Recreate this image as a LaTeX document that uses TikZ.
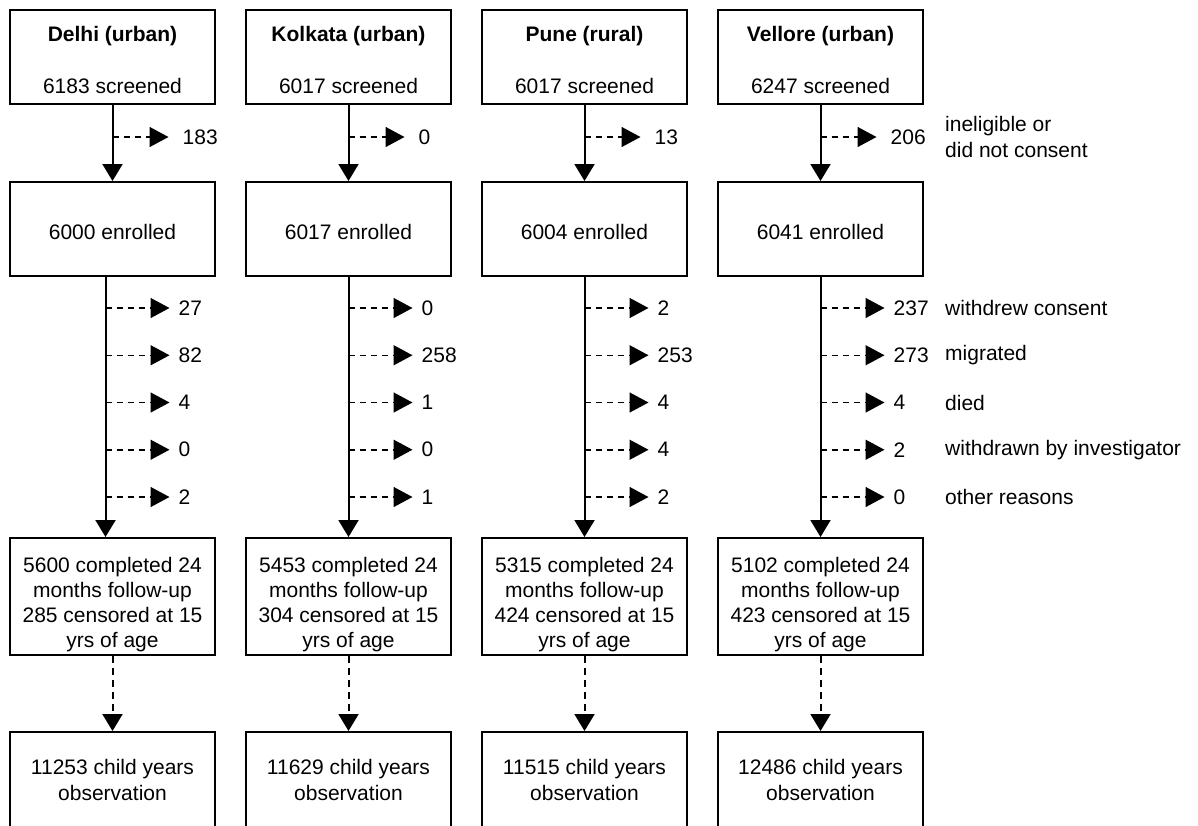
\documentclass[tikz,border=0pt]{standalone}
\usepackage{fontspec}
\setmainfont{Liberation Sans}
\usepackage{tikz}
\usetikzlibrary{arrows.meta, positioning}
\newcommand{\lift}[1]{\rule{0pt}{#1}}
\tikzset{
  flowbox/.style={draw, line width=2pt, minimum width=205pt, minimum height=94pt, align=center, inner sep=2pt, font=\fontsize{21}{25.5}\selectfont},
  followbox/.style={flowbox, minimum height=117pt, font=\fontsize{21}{25}\selectfont},
  obsbox/.style={flowbox, minimum height=96pt},
  mainarr/.style={-{Triangle[length=17pt, width=20pt]}, line width=2pt},
  obsarr/.style={mainarr, dash pattern=on 7pt off 5pt},
  lossarr/.style={-{Triangle[length=19pt, width=20pt]}, line width=1.5pt, dash pattern=on 6pt off 5pt},
  countnode/.style={inner sep=0pt, font=\fontsize{21}{25.5}\selectfont},
  reasonnode/.style={countnode, anchor=west, align=left},
}

\begin{document}
\begin{tikzpicture}[x=1pt, y=-1pt, node distance=76pt and 29pt]
  \useasboundingbox (0,0) rectangle (1198,825);
  % screening
  \node[flowbox] (scr1) at (112.5,57) {\lift{21pt}\textbf{Delhi (urban)}\\[26.5pt]6183 screened};
  \node[flowbox, right=of scr1] (scr2) {\lift{21pt}\textbf{Kolkata (urban)}\\[26.5pt]6017 screened};
  \node[flowbox, right=of scr2] (scr3) {\lift{21pt}\textbf{Pune (rural)}\\[26.5pt]6017 screened};
  \node[flowbox, right=of scr3] (scr4) {\lift{21pt}\textbf{Vellore (urban)}\\[26.5pt]6247 screened};
  % enrolment
  \node[flowbox, below=of scr1] (enr1) {\lift{21pt}6000 enrolled};
  \node[flowbox, below=of scr2] (enr2) {\lift{21pt}6017 enrolled};
  \node[flowbox, below=of scr3] (enr3) {\lift{21pt}6004 enrolled};
  \node[flowbox, below=of scr4] (enr4) {\lift{21pt}6041 enrolled};
  % follow-up
  \node[followbox, below=260pt of enr1] (fol1) {\lift{31pt}5600 completed 24\\months follow-up\\285 censored at 15\\yrs of age};
  \node[followbox, below=260pt of enr2] (fol2) {\lift{31pt}5453 completed 24\\months follow-up\\304 censored at 15\\yrs of age};
  \node[followbox, below=260pt of enr3] (fol3) {\lift{31pt}5315 completed 24\\months follow-up\\424 censored at 15\\yrs of age};
  \node[followbox, below=260pt of enr4] (fol4) {\lift{31pt}5102 completed 24\\months follow-up\\423 censored at 15\\yrs of age};
  % observation
  \node[obsbox, below=75pt of fol1] (obs1) {11253 child years\\observation};
  \node[obsbox, below=75pt of fol2] (obs2) {11629 child years\\observation};
  \node[obsbox, below=75pt of fol3] (obs3) {11515 child years\\observation};
  \node[obsbox, below=75pt of fol4] (obs4) {12486 child years\\observation};
  \coordinate (rcol) at (945,0);

  \foreach \i/\dx in {1/-7,2/0,3/0,4/0} {
    \draw[mainarr] (scr\i) -- (enr\i);
    \draw[mainarr] ([xshift=\dx pt]enr\i.south) -- ([xshift=\dx pt]fol\i.north);
    \draw[obsarr] (fol\i) -- (obs\i);
  }
  % not enrolled
  \foreach \i/\n in {1/183, 2/0, 3/13, 4/206} {
    \coordinate[below=32pt of scr\i.south] (ex\i);
    \node[countnode, right=70pt of ex\i] (exn\i) {\n};
    \draw[lossarr, shorten >=14pt] (ex\i) -- (exn\i);
  }
  % lost to follow-up
  \foreach \i/\dx/\vals in {1/-7/{27,82,4,0,2}, 2/0/{0,258,1,0,1}, 3/0/{2,253,4,4,2}, 4/0/{237,273,4,2,0}}
    \foreach \v [count=\r] in \vals {
      \pgfmathsetmacro{\dy}{31+47.25*(\r-1)}
      \coordinate (lo\i\r) at ([xshift=\dx pt, yshift=-\dy pt]enr\i.south);
      \node[countnode, right=73pt of lo\i\r] (lon\i\r) {\v};
      \draw[lossarr, shorten >=9pt] (lo\i\r) -- (lon\i\r);
    }
  \node[reasonnode] (rs0) at (ex4 -| rcol) {ineligible or\\did not consent};
  \foreach \r/\txt in {1/withdrew consent, 2/migrated, 3/died, 4/withdrawn by investigator, 5/other reasons}
    \node[reasonnode] (rs\r) at (lo4\r -| rcol) {\txt};
\end{tikzpicture}
\end{document}
